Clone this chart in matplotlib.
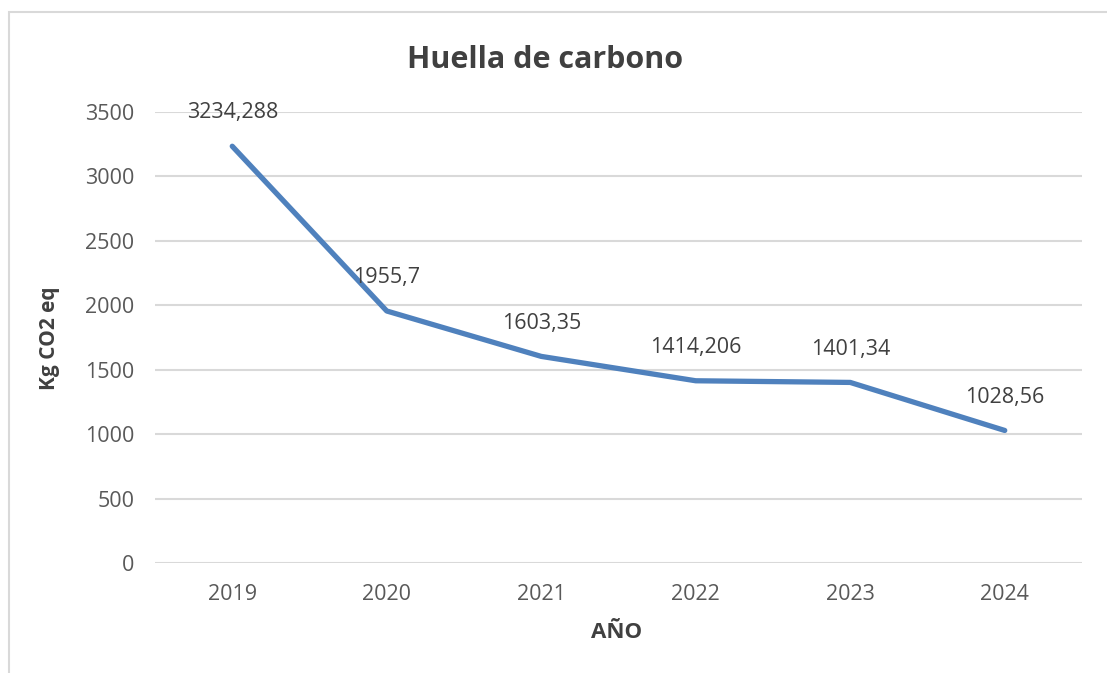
import matplotlib
matplotlib.use("Agg")
import matplotlib.pyplot as plt
from matplotlib.patches import Rectangle

years = ["2019", "2020", "2021", "2022", "2023", "2024"]
values = [3234.288, 1955.7, 1603.35, 1414.206, 1401.34, 1028.56]
labels = ["3234,288", "1955,7", "1603,35", "1414,206", "1401,34", "1028,56"]
yticks = [0, 500, 1000, 1500, 2000, 2500, 3000, 3500]

plt.rcParams['font.family'] = ['Open Sans', 'DejaVu Sans']
W, H = 1107, 673
fig = plt.figure(figsize=(W/100, H/100), dpi=100)
fig.patch.set_facecolor('white')

# outer chart border (only top/left visible)
fig.patches.append(Rectangle((9/W, -0.1), 1.2, (H-12)/H + 0.1, transform=fig.transFigure,
                             fill=False, edgecolor='#D9D9D9', linewidth=1.5))

ax = fig.add_axes([155/W, 1-563/H, (1082-155)/W, (563-112)/H])
x = list(range(len(years)))
ax.plot(x, values, color='#4F81BD', linewidth=3.8, solid_capstyle='round', zorder=3)
for xi, v, lab in zip(x, values, labels):
    ax.annotate(lab, (xi, v), xytext=(0, 24), textcoords='offset points',
                ha='center', va='center', fontsize=15.5, color='#404040')

ax.set_xlim(-0.5, len(years)-0.5)
ax.set_ylim(0, 3500)
ax.set_yticks(yticks)
ax.set_xticks(x)
ax.set_xticklabels(years)
ax.grid(axis='y', color='#D9D9D9', linewidth=1.5)
ax.set_axisbelow(True)
for s in ax.spines.values():
    s.set_visible(False)
ax.tick_params(axis='both', length=0, labelsize=15.5, labelcolor='#595959')
ax.tick_params(axis='y', pad=15)
ax.tick_params(axis='x', pad=15)

fig.text(545/W, 1-60/H, "Huella de carbono", ha='center', va='center',
         fontsize=22, fontweight='bold', color='#404040')
fig.text(50/W, 1-338/H, "Kg CO2 eq", ha='center', va='center', rotation=90,
         fontsize=15, fontweight='bold', color='#404040')
fig.text(617/W, 1-633/H, "AÑO", ha='center', va='center',
         fontsize=16, fontweight='bold', color='#404040')

fig.savefig("out.png", dpi=100)
